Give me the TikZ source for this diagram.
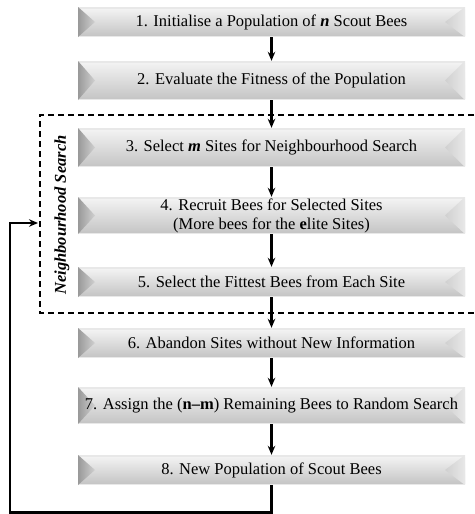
\documentclass[tikz,border=0pt]{standalone}
\usepackage{fontspec}
\setmainfont{Liberation Serif}
\usetikzlibrary{calc,arrows.meta}

\definecolor{faceTop}{HTML}{F2F2F2}
\definecolor{faceBot}{HTML}{C6C6C6}
\definecolor{bevelDark}{HTML}{999999}
\definecolor{bevelMid}{HTML}{D0D0D0}
\definecolor{bevelLight}{HTML}{E8E8E8}

\begin{document}
\begin{tikzpicture}[x=1pt,y=1pt,
    stepbox/.style={minimum width=387pt,inner sep=0pt,align=center,
        font=\fontsize{16.5}{19}\selectfont,
        path picture={
            \fill[bevelLight] (path picture bounding box.south west)
                rectangle (path picture bounding box.north east);
            \shade[top color=faceTop,bottom color=faceBot]
                ($(path picture bounding box.south west)+(0,2)$)
                rectangle ($(path picture bounding box.north east)+(0,-2)$);
            \shade[left color=bevelDark,right color=bevelMid]
                (path picture bounding box.north west)
                -- ($(path picture bounding box.west)+(17,0)$)
                -- (path picture bounding box.south west) -- cycle;
            \shade[left color=bevelMid,right color=bevelLight]
                (path picture bounding box.north east)
                -- ($(path picture bounding box.east)+(-20,0)$)
                -- (path picture bounding box.south east) -- cycle;
        }},
    flow/.style={line width=2.2pt,-{Stealth[length=9pt,width=7.5pt]}},
    frame/.style={line width=2pt,dash pattern=on 6pt off 4pt}]
\useasboundingbox (0,0) rectangle (474,-514);

% neighbourhood search frame
\draw[frame] (474,-115) -- (40,-115) -- (40,-313) -- (474,-313);
\node[rotate=90,font=\fontsize{16.5}{19}\selectfont\bfseries\itshape]
    (nblabel) at (62,-215) {Neighbourhood Search};

% steps
\node[stepbox,minimum height=30pt] (s1) at (271.5,-22)
    {1. Initialise a Population of \textbf{\textit{n}} Scout Bees};
\node[stepbox,minimum height=39pt] (s2) at (271.5,-80.5)
    {2. Evaluate the Fitness of the Population};
\node[stepbox,minimum height=39pt] (s3) at (271.5,-147.5)
    {3. Select \textbf{\textit{m}} Sites for Neighbourhood Search};
\node[stepbox,minimum height=37pt] (s4) at (271.5,-215.5)
    {4. Recruit Bees for Selected Sites\\(More bees for the \textbf{e}lite Sites)};
\node[stepbox,minimum height=30pt] (s5) at (271.5,-282)
    {5. Select the Fittest Bees from Each Site};
\node[stepbox,minimum height=30pt] (s6) at (271.5,-343)
    {6. Abandon Sites without New Information};
\node[stepbox,minimum height=37pt] (s7) at (271.5,-405.5)
    {7. Assign the (\textbf{n--m}) Remaining Bees to Random Search};
\node[stepbox,minimum height=30pt] (s8) at (271.5,-470)
    {8. New Population of Scout Bees};

% arrows
\foreach \a/\b in {s1/s2,s2/s3,s3/s4,s4/s5,s5/s6,s6/s7,s7/s8}
    \draw[flow] (\a) -- (\b);

% back to neighbourhood search
\coordinate (back) at (38,-223);
\draw[flow] (s8.south) |- (10,-512.5) |- (back);

\end{tikzpicture}
\end{document}
